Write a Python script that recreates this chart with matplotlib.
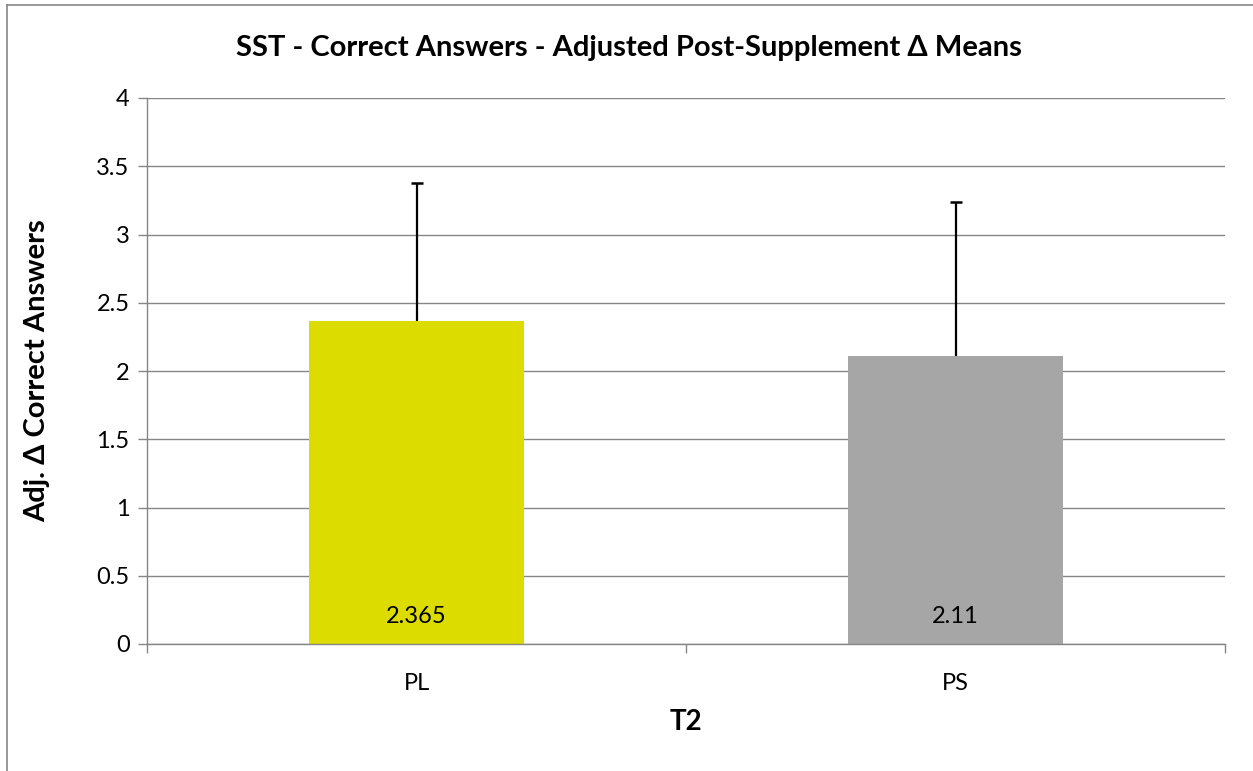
import matplotlib
matplotlib.use("Agg")
import matplotlib.pyplot as plt
from matplotlib.lines import Line2D

categories = ["PL", "PS"]
means = [2.365, 2.11]
errors = [1.012, 1.128]
value_labels = ["2.365", "2.11"]
colors = ["#DCDC00", "#A6A6A6"]
yticks = [0, 0.5, 1, 1.5, 2, 2.5, 3, 3.5, 4]
ytick_labels = ["0", "0.5", "1", "1.5", "2", "2.5", "3", "3.5", "4"]

FAM = ["Lato", "DejaVu Sans"]
plt.rcParams['font.family'] = FAM

W, H = 1253, 771
fig = plt.figure(figsize=(W / 100, H / 100), dpi=100)
ax = fig.add_axes([147 / W, 1 - 644 / H, (1225 - 147) / W, (644 - 98) / H])

grid_c = "#868686"
x = list(range(len(categories)))
ax.bar(x, means, width=0.4, color=colors, zorder=2)
ax.errorbar(x, means, yerr=[[0, 0], errors], fmt="none", ecolor="black",
            elinewidth=1.6, capsize=0, zorder=3)
tops = [m + e for m, e in zip(means, errors)]
ax.plot(x, tops, linestyle="none", marker="_", markersize=9, markeredgewidth=1.8,
        color="black", zorder=3)
for xi, lab in zip(x, value_labels):
    ax.text(xi, 0.2, lab, ha="center", va="center", fontsize=17, color="black", zorder=4)

ax.set_xlim(-0.5, 1.5)
ax.set_ylim(0, 4)
ax.set_yticks(yticks)
ax.set_yticklabels(ytick_labels, fontsize=17)
ax.yaxis.grid(True, color=grid_c, linewidth=1.0, zorder=0)
ax.set_axisbelow(True)

ax.set_xticks([-0.5, 0.5, 1.5])
ax.set_xticklabels([])
ax.set_xticks(x, minor=True)
ax.set_xticklabels(categories, minor=True, fontsize=17)
ax.tick_params(axis="x", which="minor", length=0, pad=21)
ax.tick_params(axis="x", which="major", length=6.5, color=grid_c, width=1)
ax.tick_params(axis="y", length=6.5, color=grid_c, width=1, pad=6)

for s in ["top", "right"]:
    ax.spines[s].set_visible(False)
for s in ["left", "bottom"]:
    ax.spines[s].set_color(grid_c)
    ax.spines[s].set_linewidth(1.0)

ax.set_xlabel("T2", fontsize=20, fontweight="bold", labelpad=11)
ax.set_ylabel("Adj. Δ Correct Answers", fontsize=21, fontweight="bold", labelpad=33)

fig.text(629 / W, 1 - 48 / H, "SST - Correct Answers - Adjusted Post-Supplement Δ Means",
         ha="center", va="center", fontsize=21, fontweight="bold")

# outer chart border (left and top visible)
fig.add_artist(Line2D([7 / W, 7 / W], [0, 1 - 5 / H], transform=fig.transFigure,
                      color=grid_c, linewidth=1.2))
fig.add_artist(Line2D([7 / W, 1], [1 - 5 / H, 1 - 5 / H], transform=fig.transFigure,
                      color=grid_c, linewidth=1.2))

fig.savefig("out.png", dpi=100)
